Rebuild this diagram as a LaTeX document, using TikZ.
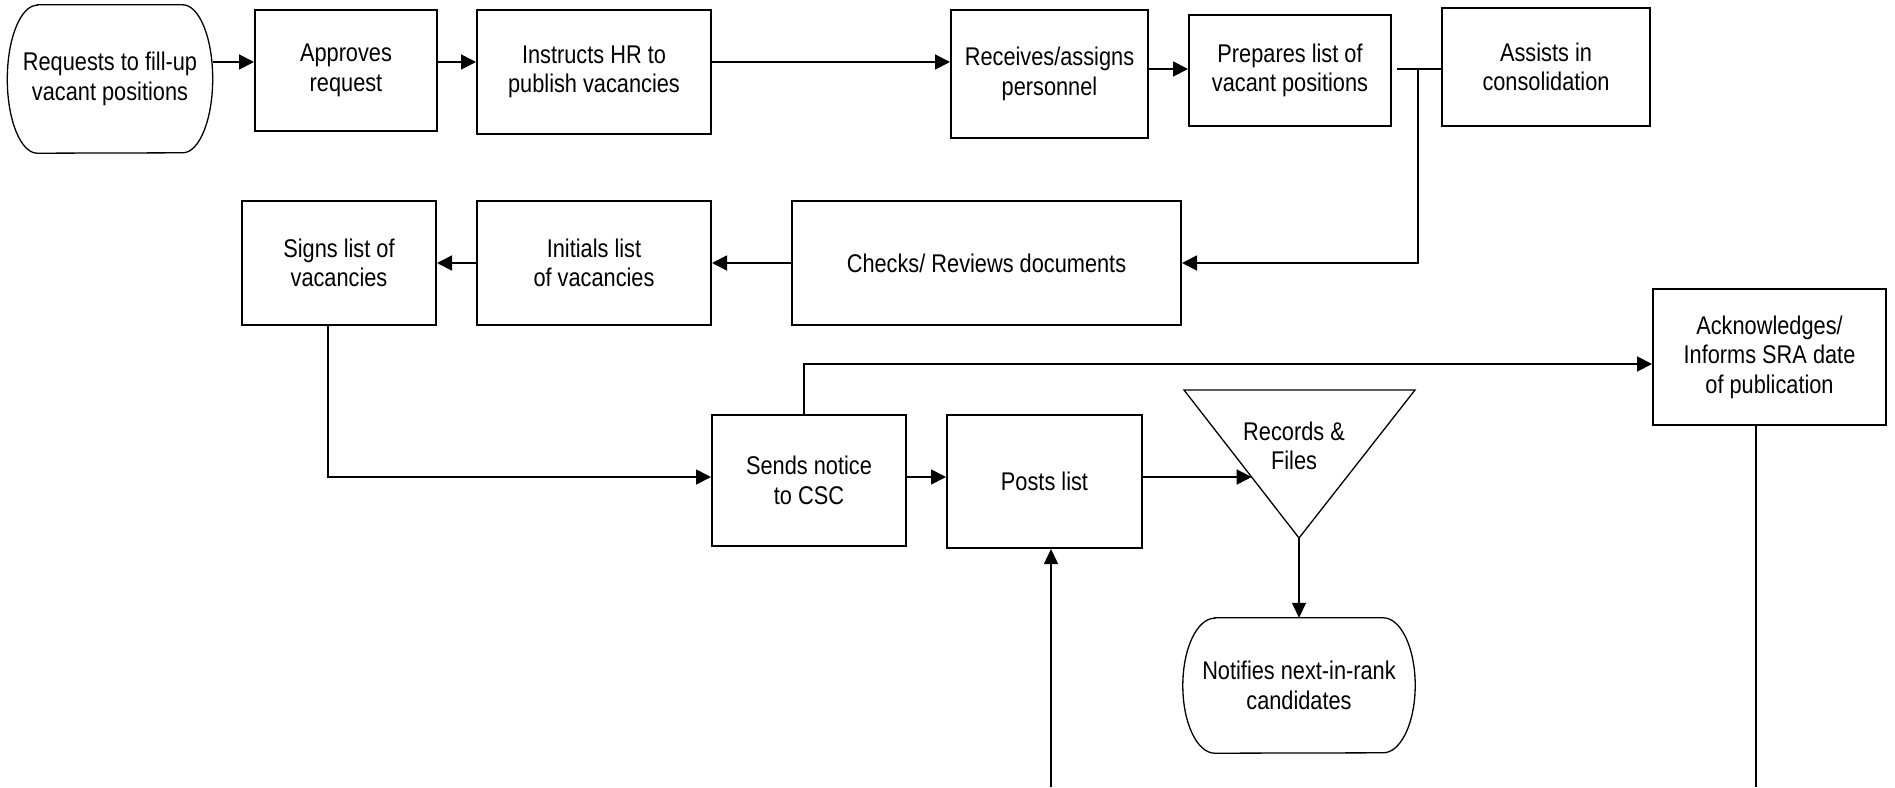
\documentclass[tikz,border=0pt]{standalone}
\usepackage{fontspec}
\setmainfont[FakeStretch=0.85]{Liberation Sans}
\usetikzlibrary{arrows.meta,calc}
\newcommand{\fsz}{\fontsize{25.6}{29.5}\selectfont}
\newcommand{\termpath}[3]{%
  \draw[termline] ([xshift=#2]#1.north west) -- ([xshift=-#2]#1.north east)
    arc[start angle=90,end angle=-90,x radius=#2,y radius=#3]
    -- ([xshift=#2]#1.south west)
    arc[start angle=270,end angle=90,x radius=#2,y radius=#3] -- cycle;}
\begin{document}
\begin{tikzpicture}[x=1pt,y=-1pt,
  box/.style={draw, line width=2pt, rectangle, inner sep=0pt, align=center, font=\fsz},
  term/.style={inner sep=0pt, align=center, font=\fsz},
  termline/.style={line width=1.3pt},
  conn/.style={line width=1.8pt},
  arr/.style={conn, -{Triangle[length=15pt,width=15pt]}},
  thinarr/.style={line width=1.5pt, -{Triangle[length=15pt,width=14pt]}},
]
\fill[white] (0,0) rectangle (1895,787);
\useasboundingbox (0,0) rectangle (1895,787);

% row coordinates
\coordinate (r1) at (0,62);
\coordinate (r1b) at (0,69);
\coordinate (r3) at (0,477);
\coordinate (r4) at (0,364);

% terminals
\node[term, minimum width=205pt, minimum height=148pt] (req) at (110,79) {Requests to fill-up\\vacant positions};
\termpath{req}{30pt}{74pt}
\node[term, minimum width=232pt, minimum height=135pt] (notif) at (1299,685.5) {Notifies next-in-rank\\candidates};
\termpath{notif}{32pt}{67.5pt}

% row 1 boxes
\node[box, minimum width=182pt, minimum height=121pt] (app) at (346,70.5) {Approves\\request};
\node[box, minimum width=234pt, minimum height=124pt] (ins) at (594,72) {Instructs HR to\\publish vacancies};
\node[box, minimum width=197pt, minimum height=128pt] (rec) at (1049.5,74) {Receives/assigns\\personnel};
\node[box, minimum width=202pt, minimum height=111pt] (prep) at (1290,70.5) {Prepares list of\\vacant positions};
\node[box, minimum width=208pt, minimum height=118pt] (ass) at (1546,67) {Assists in\\consolidation};

% row 2 boxes
\node[box, minimum width=194pt, minimum height=124pt] (signs) at (339,263) {Signs list of\\vacancies};
\node[box, minimum width=234pt, minimum height=124pt] (init) at (594,263) {Initials list\\of vacancies};
\node[box, minimum width=389pt, minimum height=124pt] (chk) at (986.5,263) {Checks/ Reviews documents};

% row 3 boxes
\node[box, minimum width=233pt, minimum height=136pt] (ack) at (1769.5,357) {Acknowledges/\\Informs SRA date\\ of publication};
\node[box, minimum width=194pt, minimum height=131pt] (sends) at (809,480.5) {Sends notice\\to CSC};
\node[box, minimum width=195pt, minimum height=133pt] (posts) at (1044.5,481.5) {Posts list};

% triangle
\coordinate (t1) at (1184,390);
\coordinate (t2) at (1415,390);
\coordinate (t3) at (1299,538);
\draw[termline, line join=miter] (t1) -- (t2) -- (t3) -- cycle;
\node[term] (rf) at (1294,446) {Records \&\\Files};
\coordinate (tl) at ($(t1)!0.588!(t3)$);

% connectors row 1
\draw[arr] (req.east |- r1) -- (app.west |- r1);
\draw[arr] (app.east |- r1) -- (ins.west |- r1);
\draw[arr] (ins.east |- r1) -- (rec.west |- r1);
\draw[arr] (rec.east |- r1b) -- (prep.west |- r1b);
\draw[conn] ([xshift=5pt]prep.east |- r1b) -- (ass.west |- r1b);
\coordinate (j) at (1418,69);
\draw[arr] (j) |- (chk.east);

% row 2
\draw[arr] (chk.west) -- (init.east);
\draw[arr] (init.west) -- (signs.east);
\draw[arr] ([xshift=-11pt]signs.south) |- (sends.west |- r3);

% row 3
\draw[arr] ([xshift=-5pt]sends.north) |- (ack.west |- r4);
\draw[arr] (sends.east |- r3) -- (posts.west |- r3);
\draw[arr] (posts.east |- r3) -- (tl);
\draw[thinarr] (t3) -- (notif.north);

% bottom lines
\coordinate (bot) at (1051,787);
\draw[thinarr] (bot) -- (bot |- posts.south);
\coordinate (bot2) at (1756,787);
\draw[line width=1.5pt] (bot2 |- ack.south) -- (bot2);
\end{tikzpicture}
\end{document}
